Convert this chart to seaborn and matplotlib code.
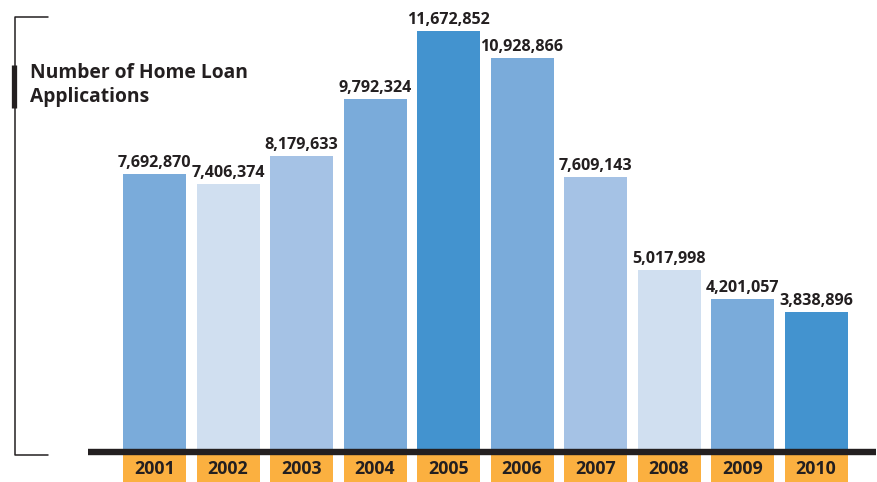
import numpy as np
import pandas as pd
import matplotlib.pyplot as plt
import seaborn as sns
from matplotlib.lines import Line2D

years = ['2001', '2002', '2003', '2004', '2005', '2006', '2007', '2008', '2009', '2010']
applications = [7692870, 7406374, 8179633, 9792324, 11672852, 10928866, 7609143, 5017998, 4201057, 3838896]
bar_colors = ['#7aabda', '#d0dff0', '#a5c2e5', '#7aabda', '#4393cf',
              '#7aabda', '#a5c2e5', '#d0dff0', '#7aabda', '#4393cf']
title = 'Number of Home Loan\nApplications'

df = pd.DataFrame({'year': years, 'apps': applications})

sns.set_style('white')
plt.rcParams['font.family'] = ['Open Sans', 'DejaVu Sans']
dark = '#231f20'

W, H = 878, 482
fig = plt.figure(figsize=(W / 100, H / 100), dpi=100)
ax = fig.add_axes([88 / W, 0, 788 / W, 1])

sns.barplot(data=df, x='year', y='apps', hue='year', palette=bar_colors,
            legend=False, width=0.857, saturation=1, linewidth=0, ax=ax)

px_per_unit = 419 / 11672852
ax.set_ylim(-32 / px_per_unit, 450 / px_per_unit)
ax.set_xlim(-0.905, 9.816)

# value labels
for i, v in enumerate(applications):
    ax.text(i, v + 3 / px_per_unit, f'{v:,}', ha='center', va='bottom',
            fontsize=11.6, fontweight='bold', color=dark)

# orange year boxes
box_bottom = -32 / px_per_unit
box_h = 27 / px_per_unit
ax.bar(range(len(years)), [box_h] * len(years), bottom=box_bottom,
       width=0.857, color='#fbb040', linewidth=0, zorder=2)
for i, y in enumerate(years):
    ax.text(i, box_bottom + box_h / 2 - 1 / px_per_unit, y, ha='center', va='center',
            fontsize=12.8, fontweight='bold', color=dark, zorder=3)

# baseline
ax.axhline(-2 / px_per_unit, color=dark, lw=4.6, zorder=4)

ax.set_xlabel('')
ax.set_ylabel('')
ax.set_xticks([])
ax.set_yticks([])
sns.despine(ax=ax, left=True, bottom=True)

# bracket on the left
def fx(p):
    return p / W

def fy(p):
    return 1 - p / H

fig.add_artist(Line2D([fx(48), fx(15), fx(15), fx(48)],
                      [fy(17), fy(17), fy(455), fy(455)],
                      color=dark, lw=1.1))
fig.add_artist(Line2D([fx(14.5), fx(14.5)], [fy(65), fy(108)],
                      color=dark, lw=3.8, solid_capstyle='butt'))

fig.text(fx(30), fy(63), title, ha='left', va='top', fontsize=13.9,
         fontweight='bold', color=dark, linespacing=1.25)

fig.savefig('out.png', dpi=100)
